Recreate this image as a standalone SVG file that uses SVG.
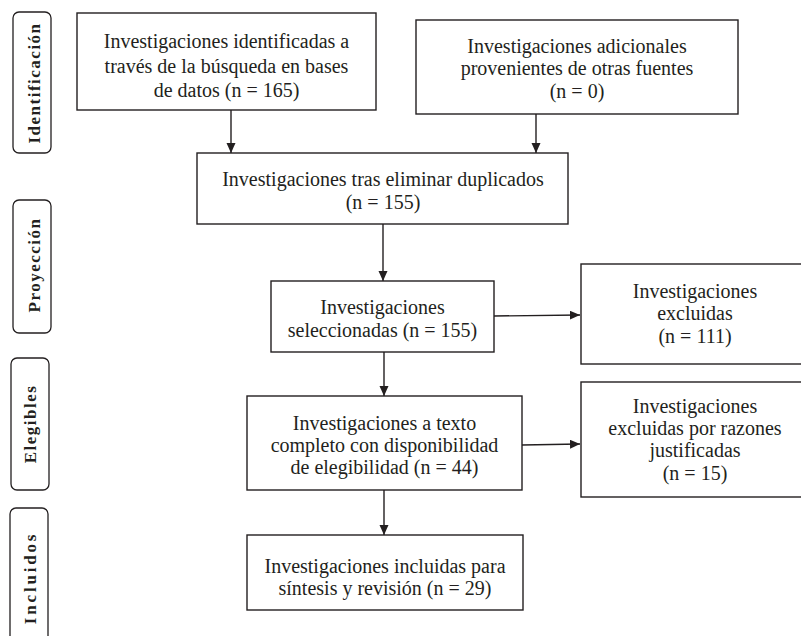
<svg xmlns="http://www.w3.org/2000/svg" width="801" height="636" viewBox="0 0 801 636">
<style>
.box{fill:#fff;stroke:#231f20;stroke-width:1.4}
.side{fill:#fff;stroke:#231f20;stroke-width:1.3}
.t{font-family:'Liberation Serif',Tinos,'Times New Roman',Times,'Nimbus Roman','DejaVu Serif',serif;font-size:20px;fill:#231f20;text-anchor:middle}
.s{font-family:'Liberation Serif',Tinos,'Times New Roman',Times,'Nimbus Roman','DejaVu Serif',serif;font-size:17px;font-weight:bold;fill:#231f20;text-anchor:middle;letter-spacing:1.5px}
.c{stroke:#231f20;stroke-width:1.4;fill:none;marker-end:url(#ah)}
</style>
<defs>
<marker id="ah" markerUnits="userSpaceOnUse" markerWidth="11" markerHeight="10" refX="10" refY="4.5" orient="auto">
<path d="M0,0 L10,4.5 L0,9 z" fill="#231f20"/>
</marker>
</defs>
<rect width="801" height="636" fill="#fff"/>

<g id="lbl-identificacion">
<rect class="side" x="13" y="12" width="38" height="141" rx="6"/>
<text class="s" transform="translate(40,83) rotate(-90)">Identificación</text>
</g>
<g id="lbl-proyeccion">
<rect class="side" x="13" y="200" width="38" height="133" rx="6"/>
<text class="s" transform="translate(40,265) rotate(-90)">Proyección</text>
</g>
<g id="lbl-elegibles">
<rect class="side" x="11" y="358" width="38" height="132" rx="6"/>
<text class="s" transform="translate(36,424) rotate(-90)">Elegibles</text>
</g>
<g id="lbl-incluidos">
<rect class="side" x="10" y="508" width="38" height="140" rx="6"/>
<text class="s" style="letter-spacing:2.8px" transform="translate(36,578) rotate(-90)">Incluidos</text>
</g>

<g id="connectors">
<line class="c" x1="231" y1="110" x2="231" y2="153"/>
<line class="c" x1="536" y1="114" x2="536" y2="153"/>
<line class="c" x1="383" y1="224" x2="383" y2="281"/>
<line class="c" x1="494" y1="316" x2="580" y2="315"/>
<line class="c" x1="384" y1="352" x2="384" y2="396"/>
<line class="c" x1="522" y1="445" x2="580" y2="444"/>
<line class="c" x1="384" y1="490" x2="384" y2="535"/>
</g>

<g id="n-bases">
<rect class="box" x="77" y="13" width="299" height="97"/>
<text class="t" x="226.5" y="48">Investigaciones identificadas a</text>
<text class="t" x="226.5" y="73">través de la búsqueda en bases</text>
<text class="t" x="226.5" y="97">de datos (n = 165)</text>
</g>
<g id="n-otras">
<rect class="box" x="416" y="20" width="322" height="94"/>
<text class="t" x="577" y="53">Investigaciones adicionales</text>
<text class="t" x="577" y="75">provenientes de otras fuentes</text>
<text class="t" x="577" y="98">(n = 0)</text>
</g>
<g id="n-duplicados">
<rect class="box" x="197" y="153" width="371" height="71"/>
<text class="t" x="383" y="186">Investigaciones tras eliminar duplicados</text>
<text class="t" x="383" y="209">(n = 155)</text>
</g>
<g id="n-seleccionadas">
<rect class="box" x="271" y="281" width="223" height="71"/>
<text class="t" x="382.5" y="314">Investigaciones</text>
<text class="t" x="382.5" y="337">seleccionadas (n = 155)</text>
</g>
<g id="n-excluidas">
<rect class="box" x="581" y="264" width="230" height="100"/>
<text class="t" x="695" y="298">Investigaciones</text>
<text class="t" x="695" y="320">excluidas</text>
<text class="t" x="695" y="343">(n = 111)</text>
</g>
<g id="n-texto">
<rect class="box" x="247" y="396" width="275" height="94"/>
<text class="t" x="384.5" y="430">Investigaciones a texto</text>
<text class="t" x="384.5" y="452">completo con disponibilidad</text>
<text class="t" x="384.5" y="474">de elegibilidad (n = 44)</text>
</g>
<g id="n-razones">
<rect class="box" x="581" y="382" width="230" height="115"/>
<text class="t" x="695" y="413">Investigaciones</text>
<text class="t" x="695" y="435">excluidas por razones</text>
<text class="t" x="695" y="457">justificadas</text>
<text class="t" x="695" y="480">(n = 15)</text>
</g>
<g id="n-incluidas">
<rect class="box" x="247" y="535" width="276" height="75"/>
<text class="t" x="385" y="573">Investigaciones incluidas para</text>
<text class="t" x="385" y="595">síntesis y revisión (n = 29)</text>
</g>
</svg>
